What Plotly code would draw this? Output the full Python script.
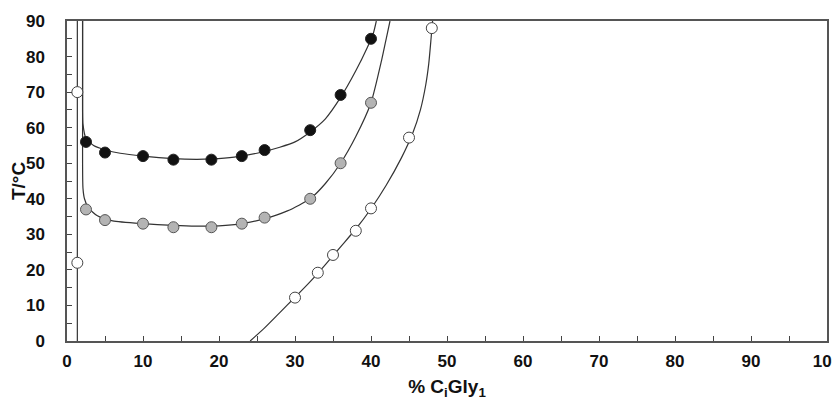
import plotly.graph_objects as go

# Measured points
black_x = [2.5, 5, 10, 14, 19, 23, 26, 32, 36, 40]
black_y = [56, 53, 52, 51, 51, 52, 53.7, 59.3, 69.2, 85]
gray_x = [2.5, 5, 10, 14, 19, 23, 26, 32, 36, 40]
gray_y = [37, 34, 33, 32, 32, 33, 34.7, 40, 50, 67]
open_x = [1.36, 1.36, 30, 33, 35, 38, 40, 45, 48]
open_y = [70, 22, 12.2, 19.2, 24.2, 31, 37.3, 57.2, 88]

# Fitted curves
black_cx = [2.05, 2.05, 2.05, 2.1, 2.5, 3.5, 5, 7, 10, 14, 17, 19, 22, 25, 28, 30, 32, 34, 36, 38, 39.5, 40.3, 40.7]
black_cy = [90, 75, 65, 61, 57, 55, 53.8, 52.8, 52, 51.3, 51.1, 51.2, 51.7, 52.8, 54.5, 56, 58.8, 62.5, 68.5, 76, 82.5, 86.5, 90]
gray_cx = [2.05, 2.05, 2.05, 2.1, 2.3, 2.8, 4, 6, 10, 14, 17, 20, 23, 26, 29, 32, 34, 36, 38, 40, 41.4, 42, 42.5]
gray_cy = [90, 60, 50, 43, 40, 37.5, 35.2, 33.8, 33, 32.5, 32.3, 32.4, 33, 34.4, 36.6, 40, 44.3, 50, 57.5, 67, 79, 85, 90]
open_cx = [24.1, 26, 28, 30, 32, 34, 36, 38, 40, 42, 44, 45.5, 46.5, 47.2, 47.6, 47.9, 48.1]
open_cy = [0, 3.7, 8, 12.3, 16.7, 21.5, 26.5, 31.5, 37.2, 43.8, 51.5, 58.5, 65, 72, 78, 85, 90]
open_lx = [1.36, 1.36]
open_ly = [0, 90]

x_ticks = [0, 10, 20, 30, 40, 50, 60, 70, 80, 90, 100]
y_ticks = [0, 10, 20, 30, 40, 50, 60, 70, 80, 90]

line_style = dict(color="#333333", width=1.2, shape="spline", smoothing=0.6)

fig = go.Figure()
for cx, cy in [(black_cx, black_cy), (gray_cx, gray_cy), (open_cx, open_cy), (open_lx, open_ly)]:
    fig.add_trace(go.Scatter(x=cx, y=cy, mode="lines", line=line_style,
                             showlegend=False, hoverinfo="skip"))

fig.add_trace(go.Scatter(x=black_x, y=black_y, mode="markers", showlegend=False,
                         marker=dict(size=11, color="#111111", line=dict(color="#222222", width=1))))
fig.add_trace(go.Scatter(x=gray_x, y=gray_y, mode="markers", showlegend=False,
                         marker=dict(size=11, color="#b4b4b4", line=dict(color="#555555", width=1))))
fig.add_trace(go.Scatter(x=open_x, y=open_y, mode="markers", showlegend=False,
                         marker=dict(size=11, color="white", line=dict(color="#444444", width=1))))

tickfont = dict(family="Liberation Sans, Arial", size=17, color="#111111", weight="bold")
titlefont = dict(family="Liberation Sans, Arial", size=19, color="#111111", weight="bold")

# The page body adds an 8px offset, so the figure is sized/margined to compensate
fig.update_layout(
    width=832, height=403,
    margin=dict(l=59, r=13, t=13, b=70),
    paper_bgcolor="white", plot_bgcolor="white",
    xaxis=dict(range=[0, 100], tickvals=x_ticks, ticks="inside", ticklen=5,
               tickcolor="#444444", showline=True, linecolor="#555555", linewidth=1.5,
               mirror=True, showgrid=False, zeroline=False, tickfont=tickfont,
               automargin=False, ticklabelstandoff=4, ticklabeloverflow="allow",
               minor=dict(dtick=5, ticks="inside", ticklen=5, tickcolor="#444444"),
               title=dict(text="% C<sub>i</sub>Gly<sub>1</sub>", standoff=10, font=titlefont)),
    yaxis=dict(range=[0, 90], tickvals=y_ticks, ticks="inside", ticklen=5,
               tickcolor="#444444", showline=True, linecolor="#555555", linewidth=1.5,
               mirror=True, showgrid=False, zeroline=False, tickfont=tickfont,
               automargin=False, ticklabelstandoff=17, ticklabeloverflow="allow",
               minor=dict(dtick=5, ticks="inside", ticklen=5, tickcolor="#444444"),
               title=dict(text="T/°C", standoff=2, font=titlefont)),
)

fig.write_html("out.html")
